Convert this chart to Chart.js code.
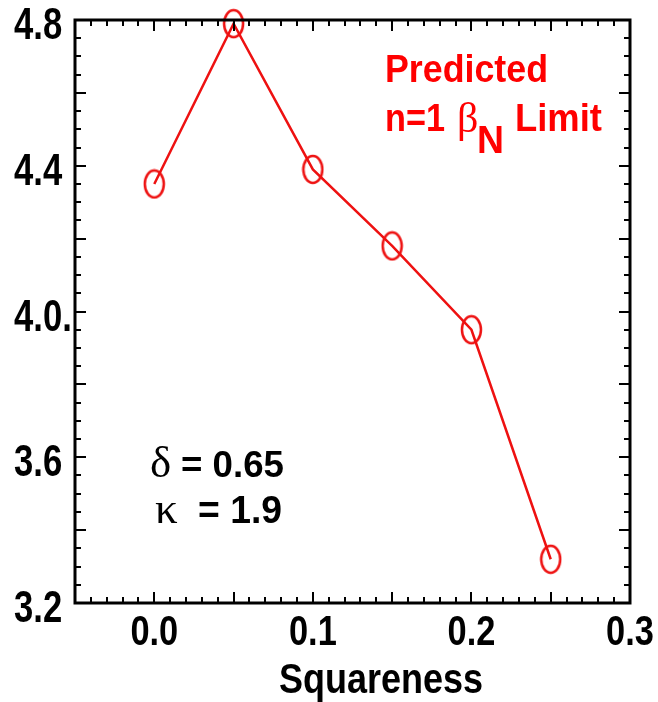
<!DOCTYPE html>
<html>
<head>
<meta charset="utf-8">
<script src="https://cdn.jsdelivr.net/npm/chart.js@4/dist/chart.umd.min.js"></script>
<style>
  html, body { margin: 0; padding: 0; background: #fff; }
  canvas { display: block; }
</style>
</head>
<body>
<canvas id="chart" width="658" height="702"></canvas>
<script>
// n=1 beta_N limit against squareness
const squareness = [0.0, 0.05, 0.1, 0.15, 0.2, 0.25];
const betaN = [4.35, 4.79, 4.39, 4.18, 3.95, 3.32];

const xTickValues = [0.0, 0.1, 0.2, 0.3];
const xTickLabels = ['0.0', '0.1', '0.2', '0.3'];
const yTickValues = [3.2, 3.6, 4.0, 4.4, 4.8];
const yTickLabels = ['3.2', '3.6', '4.0.', '4.4', '4.8'];

const RED = '#ff0000';
const SANS = '"Liberation Sans", Arial, sans-serif';
const SERIF = '"Liberation Serif", "Times New Roman", serif';

// open ellipse used as the point symbol
function ellipseSymbol(w, h, color) {
  const c = document.createElement('canvas');
  c.width = w + 4;
  c.height = h + 4;
  const g = c.getContext('2d');
  g.strokeStyle = color;
  g.lineWidth = 2.5;
  g.beginPath();
  g.ellipse(c.width / 2, c.height / 2, w / 2, h / 2, 0, 0, Math.PI * 2);
  g.stroke();
  return c;
}

// text squeezed or stretched horizontally (sx) or fitted to a width
function drawText(ctx, text, x, y, font, opts) {
  opts = opts || {};
  ctx.save();
  ctx.font = font;
  ctx.fillStyle = opts.color || '#000';
  ctx.textBaseline = 'alphabetic';
  ctx.textAlign = opts.align || 'left';
  let sx = opts.sx || 1;
  if (opts.width) sx = opts.width / ctx.measureText(text).width;
  ctx.translate(x, y);
  ctx.scale(sx, 1);
  ctx.fillText(text, 0, 0);
  ctx.restore();
}

const frame = {
  id: 'frame',
  afterDraw(chart) {
    const ctx = chart.ctx;
    const xs = chart.scales.x, ys = chart.scales.y;
    const a = chart.chartArea;

    ctx.save();
    ctx.strokeStyle = '#000';
    ctx.lineCap = 'square';

    // minor / major ticks on all four sides, pointing inward
    ctx.lineWidth = 2;
    ctx.beginPath();
    for (let i = 0; i <= 35; i++) {
      const v = -0.05 + i * 0.01;
      const px = Math.round(xs.getPixelForValue(v));
      const len = (i % 5 === 0) ? 10 : 5;
      ctx.moveTo(px, a.bottom); ctx.lineTo(px, a.bottom - len);
      ctx.moveTo(px, a.top); ctx.lineTo(px, a.top + len);
    }
    for (let i = 0; i <= 32; i++) {
      const v = 3.2 + i * 0.05;
      const py = Math.round(ys.getPixelForValue(v));
      const len = (i % 4 === 0) ? 10 : 5;
      ctx.moveTo(a.left, py); ctx.lineTo(a.left + len, py);
      ctx.moveTo(a.right, py); ctx.lineTo(a.right - len, py);
    }
    ctx.stroke();

    // axis box
    ctx.lineWidth = 3;
    ctx.strokeRect(a.left, a.top, a.right - a.left, a.bottom - a.top);
    ctx.restore();

    // tick labels
    yTickValues.forEach((v, i) => {
      drawText(ctx, yTickLabels[i], 14, ys.getPixelForValue(v) + 19,
        'bold 45px ' + SANS, { sx: 0.77 });
    });
    xTickValues.forEach((v, i) => {
      drawText(ctx, xTickLabels[i], xs.getPixelForValue(v), 645,
        'bold 43px ' + SANS, { sx: 0.8, align: 'center' });
    });

    // axis title
    drawText(ctx, 'Squareness', 381, 693, 'bold 43px ' + SANS,
      { width: 204, align: 'center' });

    // legend text
    drawText(ctx, 'Predicted', 385, 82, 'bold 38px ' + SANS, { color: RED, width: 163 });
    drawText(ctx, 'n=1', 385, 131, 'bold 38px ' + SANS, { color: RED, width: 60 });
    drawText(ctx, 'β', 457, 132, '42px ' + SERIF, { color: RED });
    drawText(ctx, 'N', 477, 153, 'bold 38px ' + SANS, { color: RED, width: 27 });
    drawText(ctx, 'Limit', 515, 131, 'bold 38px ' + SANS, { color: RED, width: 87 });

    // shape parameters
    drawText(ctx, 'δ', 150, 477, '45px ' + SERIF);
    drawText(ctx, '= 0.65', 181, 477, 'bold 36px ' + SANS, { width: 103 });
    drawText(ctx, 'κ', 155, 523, '45px ' + SERIF);
    drawText(ctx, '= 1.9', 198, 523, 'bold 38px ' + SANS, { width: 84 });
  }
};

new Chart(document.getElementById('chart'), {
  type: 'line',
  data: {
    datasets: [{
      data: squareness.map((s, i) => ({ x: s, y: betaN[i] })),
      borderColor: '#ee1111',
      borderWidth: 2.5,
      tension: 0,
      fill: false,
      clip: false,
      pointStyle: ellipseSymbol(19, 27, '#ee1111'),
      pointRadius: 10,
      pointHoverRadius: 10
    }]
  },
  options: {
    responsive: false,
    animation: false,
    devicePixelRatio: 1,
    events: [],
    layout: { padding: { left: 75, top: 20, right: 28, bottom: 99 } },
    plugins: { legend: { display: false }, tooltip: { enabled: false } },
    scales: {
      x: { type: 'linear', min: -0.05, max: 0.3, display: false },
      y: { type: 'linear', min: 3.2, max: 4.8, display: false }
    }
  },
  plugins: [frame]
});
</script>
</body>
</html>
